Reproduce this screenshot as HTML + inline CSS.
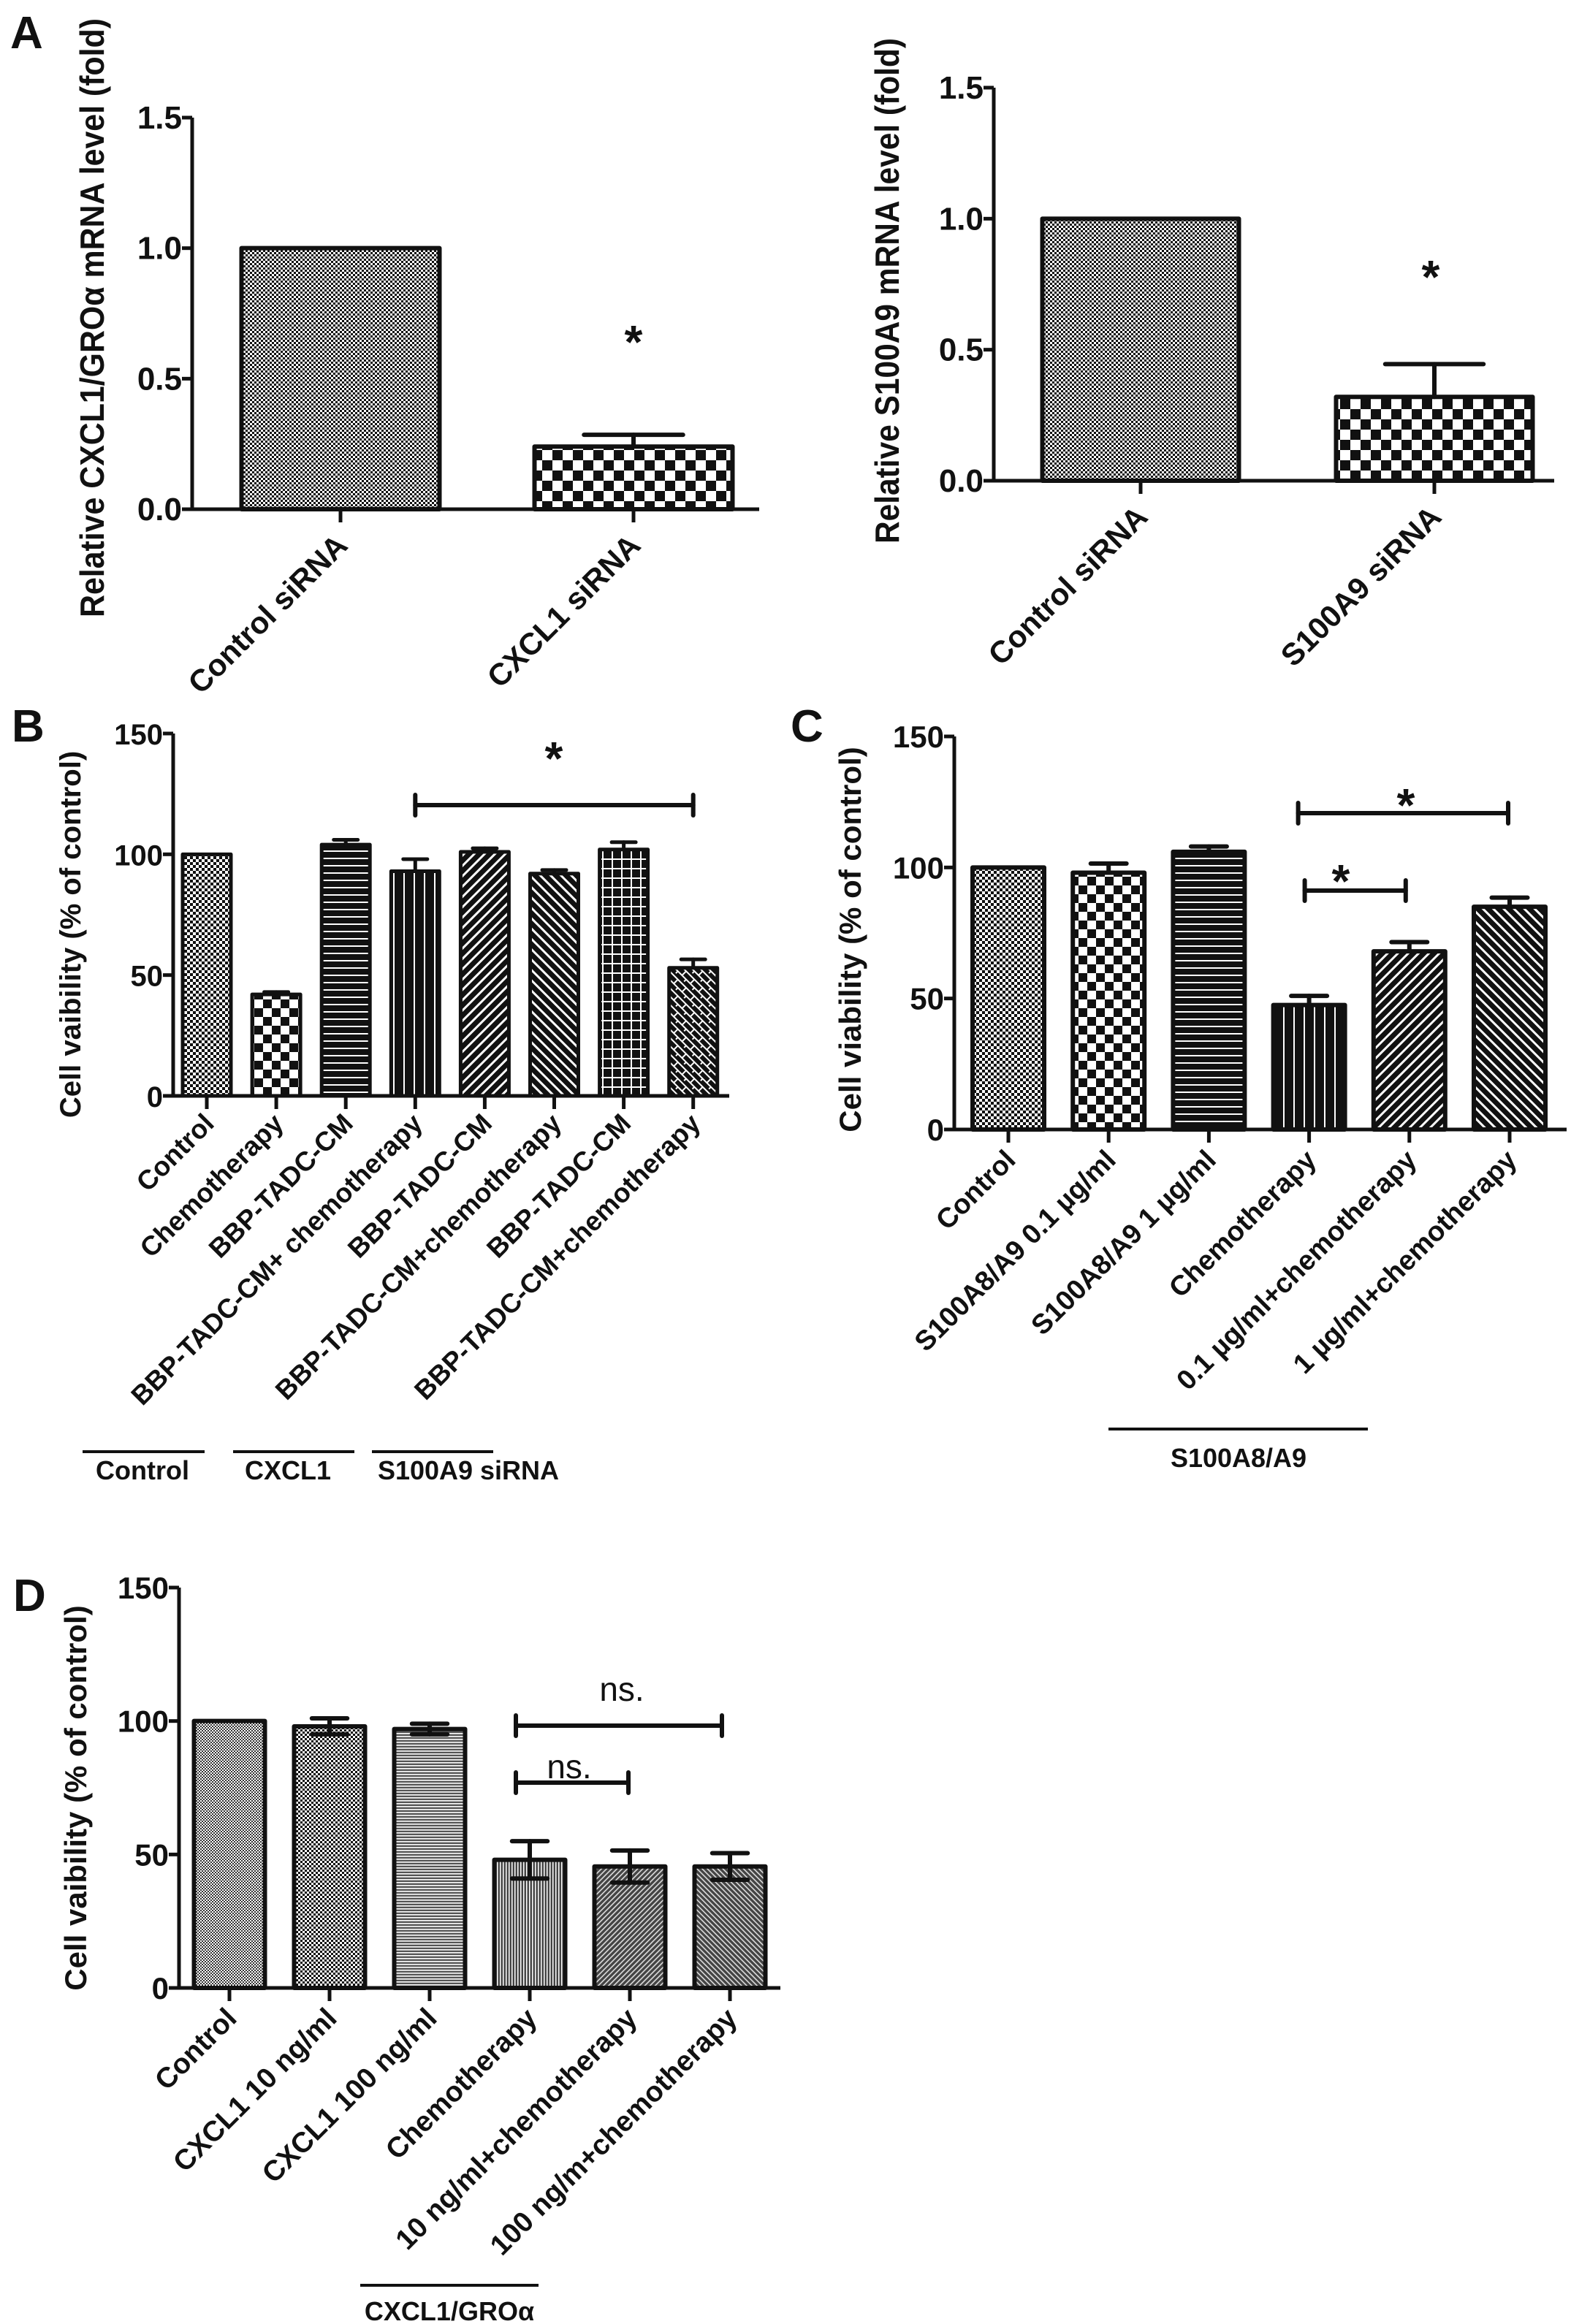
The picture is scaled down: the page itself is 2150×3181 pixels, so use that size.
<!DOCTYPE html>
<html><head><meta charset="utf-8">
<style>
html,body{margin:0;padding:0;background:#fff;}
svg{display:block;font-family:"Liberation Sans",Arial,sans-serif;font-weight:bold;}
</style></head>
<body>
<svg id="fig" width="2150" height="3181" viewBox="0 0 2150 3181" xmlns="http://www.w3.org/2000/svg">
<defs>
<pattern id="pFine" width="6" height="6" patternUnits="userSpaceOnUse"><rect width="6" height="6" fill="#fff"/><rect width="3" height="3" fill="#111"/><rect x="3" y="3" width="3" height="3" fill="#111"/></pattern>
<pattern id="pFine2" width="8" height="8" patternUnits="userSpaceOnUse"><rect width="8" height="8" fill="#fff"/><rect width="4" height="4" fill="#111"/><rect x="4" y="4" width="4" height="4" fill="#111"/></pattern>
<pattern id="pCoarse" width="28" height="28" patternUnits="userSpaceOnUse"><rect width="28" height="28" fill="#fff"/><rect width="14" height="14" fill="#111"/><rect x="14" y="14" width="14" height="14" fill="#111"/></pattern>
<pattern id="pCoarseB" width="24" height="24" patternUnits="userSpaceOnUse"><rect width="24" height="24" fill="#fff"/><rect width="12" height="12" fill="#111"/><rect x="12" y="12" width="12" height="12" fill="#111"/></pattern>
<pattern id="pH" width="10" height="10" patternUnits="userSpaceOnUse"><rect width="10" height="10" fill="#111"/><rect y="4" width="10" height="2" fill="#fff"/></pattern>
<pattern id="pV" width="14" height="10" patternUnits="userSpaceOnUse"><rect width="14" height="10" fill="#111"/><rect x="6" width="2" height="10" fill="#fff"/></pattern>
<pattern id="pD1" width="10" height="10" patternUnits="userSpaceOnUse" patternTransform="rotate(45)"><rect width="10" height="10" fill="#111"/><rect x="4" width="3" height="10" fill="#fff"/></pattern>
<pattern id="pD2" width="10" height="10" patternUnits="userSpaceOnUse" patternTransform="rotate(-45)"><rect width="10" height="10" fill="#111"/><rect x="4" width="3" height="10" fill="#fff"/></pattern>
<pattern id="pGrid" width="13" height="13" patternUnits="userSpaceOnUse"><rect width="13" height="13" fill="#111"/><rect x="5" width="2" height="13" fill="#fff"/><rect y="5" width="13" height="2" fill="#fff"/></pattern>
<pattern id="pBrick" width="16" height="16" patternUnits="userSpaceOnUse" patternTransform="rotate(45)"><rect width="16" height="16" fill="#111"/><rect y="3" width="16" height="2" fill="#fff"/><rect y="11" width="16" height="2" fill="#fff"/><rect x="3" y="3" width="2" height="8" fill="#fff"/><rect x="11" y="11" width="2" height="8" fill="#fff"/></pattern>
<pattern id="pDH" width="4" height="4" patternUnits="userSpaceOnUse"><rect width="4" height="4" fill="#555"/><rect width="4" height="1.6" fill="#fff"/></pattern>
<pattern id="pDV" width="4" height="4" patternUnits="userSpaceOnUse"><rect width="4" height="4" fill="#444"/><rect width="1.5" height="4" fill="#fff"/></pattern>
<pattern id="pDD1" width="5" height="5" patternUnits="userSpaceOnUse" patternTransform="rotate(45)"><rect width="5" height="5" fill="#444"/><rect width="1.6" height="5" fill="#ddd"/></pattern>
<pattern id="pDD2" width="5" height="5" patternUnits="userSpaceOnUse" patternTransform="rotate(-45)"><rect width="5" height="5" fill="#444"/><rect width="1.6" height="5" fill="#ddd"/></pattern>
<pattern id="pDF" width="4" height="4" patternUnits="userSpaceOnUse"><rect width="4" height="4" fill="#fff"/><rect width="2" height="2" fill="#333"/><rect x="2" y="2" width="2" height="2" fill="#333"/></pattern>
</defs>
</svg>
<script>
// ---- Panel A-left data ----
const aLCats = ["Control siRNA","CXCL1 siRNA"];
const aLVals = [1.0, 0.24];
const aLErrs = [0, 0.045];
const aLTicks = [0, 0.5, 1.0, 1.5];
const aLTickLabels = ["0.0","0.5","1.0","1.5"];
// ---- Panel A-right data ----
const aRCats = ["Control siRNA","S100A9 siRNA"];
const aRVals = [1.0, 0.32];
const aRErrs = [0, 0.125];
const aRTicks = [0, 0.5, 1.0, 1.5];
const aRTickLabels = ["0.0","0.5","1.0","1.5"];
// ---- Panel B data ----
const bCats = ["Control","Chemotherapy","BBP-TADC-CM","BBP-TADC-CM+ chemotherapy","BBP-TADC-CM","BBP-TADC-CM+chemotherapy","BBP-TADC-CM","BBP-TADC-CM+chemotherapy"];
const bVals = [100, 42, 104, 93, 101, 92, 102, 53];
const bErrs = [0, 1, 2, 5, 1.5, 1.5, 3, 3.5];
const bTicks = [0, 50, 100, 150];
const bTickLabels = ["0","50","100","150"];
// ---- Panel C data ----
const cCats = ["Control","S100A8/A9 0.1 \u00b5g/ml","S100A8/A9 1 \u00b5g/ml","Chemotherapy","0.1 \u00b5g/ml+chemotherapy","1 \u00b5g/ml+chemotherapy"];
const cVals = [100, 98, 106, 47.5, 68, 85];
const cErrs = [0, 3.5, 2, 3.5, 3.5, 3.5];
const cTicks = [0, 50, 100, 150];
const cTickLabels = ["0","50","100","150"];
// ---- Panel D data ----
const dCats = ["Control","CXCL1 10 ng/ml","CXCL1 100 ng/ml","Chemotherapy","10 ng/ml+chemotherapy","100 ng/m+chemotherapy"];
const dVals = [100, 98, 97, 48, 45.5, 45.5];
const dErrs = [0, 3, 2, 7, 6, 5];
const dTicks = [0, 50, 100, 150];
const dTickLabels = ["0","50","100","150"];

const NS = "http://www.w3.org/2000/svg";
const fig = document.getElementById('fig');
function mk(tag, attrs, parent){
  const e = document.createElementNS(NS, tag);
  for (const k in attrs) e.setAttribute(k, attrs[k]);
  (parent||fig).appendChild(e);
  return e;
}
function txt(s, attrs, parent){ const t = mk('text', attrs, parent); t.textContent = s; return t; }

function panel(p){
  const g = mk('g', {});
  
  
  const yScale = v => p.y0 - (v - p.ticks[0]) / (p.ticks[p.ticks.length-1] - p.ticks[0]) * (p.y0 - p.yTop);
  const xScale = i => p.x1st + i * p.step;
  p.vals.forEach((v, i) => {
    const cx = xScale(i), top = yScale(v);
    const r = mk('rect', {x: cx - p.bw/2, y: top, width: p.bw, height: p.y0 - top, fill: 'url(#' + p.fills[i] + ')', stroke: '#111', 'stroke-width': p.sw, 'stroke-linejoin': 'round'}, g);
    
    
    const e = p.errs[i];
    if (e > 0) {
      const eg = mk('g', {stroke: '#111', 'stroke-width': p.sw, 'stroke-linecap': 'round'}, g);
      
      
      const hi = yScale(v + e), lo = p.both ? yScale(v - e) : top;
      const cw = p.bw * 0.25;
      mk('line', {x1: cx, x2: cx, y1: hi, y2: lo}, eg);
      mk('line', {x1: cx - cw, x2: cx + cw, y1: hi, y2: hi}, eg);
      if (p.both) mk('line', {x1: cx - cw, x2: cx + cw, y1: lo, y2: lo}, eg);
    }
    mk('line', {x1: cx, x2: cx, y1: p.y0, y2: p.y0 + 18, stroke: '#111', 'stroke-width': 5}, g);
    const lx = cx + p.lox, ly = p.y0 + p.loy;
    const t = txt(p.cats[i], {x: lx, y: ly, 'text-anchor': 'end', 'font-size': p.lfs, transform: 'rotate(-45 ' + lx + ' ' + ly + ')', fill: '#111'}, g);
    
    
  });
  const ax = mk('path', {d: 'M' + p.ax + ' ' + p.yTop + ' V' + p.y0 + ' H' + p.xEnd, fill: 'none', stroke: '#111', 'stroke-width': 5}, g);
  
  
  p.ticks.forEach((tv, k) => {
    const y = yScale(tv);
    mk('line', {x1: p.ax - 14, x2: p.ax, y1: y, y2: y, stroke: '#111', 'stroke-width': 5}, g);
    const t = txt(p.tickLabels[k], {x: p.ax - 14, y: y + 15, 'text-anchor': 'end', 'font-size': p.tkfs || 42, fill: '#111'}, g);
    
    
  });
  const ta = {x: 0, y: 0, 'text-anchor': 'middle', 'font-size': p.tfs, transform: 'translate(' + p.tx + ' ' + p.ty + ') rotate(-90)', fill: '#111'};
  if (p.tlen) { ta.textLength = p.tlen; ta.lengthAdjust = 'spacingAndGlyphs'; }
  const yt = txt(p.title, ta, g);
  
  
  return {g, yScale, xScale};
}

function sig(parent, xs, xe, y, label, lx, ly, fs, name){
  const g = mk('g', {stroke: '#111', 'stroke-width': 6, 'stroke-linecap': 'round'}, parent);
  
  
  mk('line', {x1: xs, x2: xe, y1: y, y2: y}, g);
  mk('line', {x1: xs, x2: xs, y1: y - 14, y2: y + 14}, g);
  mk('line', {x1: xe, x2: xe, y1: y - 14, y2: y + 14}, g);
  const t = txt(label, {x: lx, y: ly, 'text-anchor': 'middle', 'font-size': fs, fill: '#111', stroke: 'none', 'font-weight': label === '*' ? 'bold' : 'normal'}, parent);
  
  
}
function letter(s, x, y){
  const t = txt(s, {x, y, 'font-size': 62, fill: '#111'});
  
  
}
function group(parent, x1, x2, y, label, tx, ty, name){
  const l = mk('line', {x1, x2, y1: y, y2: y, stroke: '#111', 'stroke-width': 4}, parent);
  
  
  const t = txt(label, {x: tx, y: ty, 'text-anchor': 'middle', 'font-size': 36, fill: '#111'}, parent);
  
  
}
function star(parent, x, y){
  const t = txt('*', {x, y, 'text-anchor': 'middle', 'font-size': 64, fill: '#111'}, parent);
  
  
}

// Panel A left
letter('A', 14, 66);
const pAL = panel({name: 'panel-a-cxcl1', cats: aLCats, vals: aLVals, errs: aLErrs, ticks: aLTicks, tickLabels: aLTickLabels,
  y0: 697, yTop: 161, ax: 263, xEnd: 1039, x1st: 466, step: 401, bw: 271, sw: 6, fills: ['pFine','pCoarse'], tkfs: 44,
  title: 'Relative CXCL1/GRO\u03b1  mRNA level (fold)', tx: 142, ty: 435, tfs: 46, tlen: 820, lfs: 42, lox: 12, loy: 52});
star(pAL.g, 867, 490);

// Panel A right
const pAR = panel({name: 'panel-a-s100a9', cats: aRCats, vals: aRVals, errs: aRErrs, ticks: aRTicks, tickLabels: aRTickLabels,
  y0: 658, yTop: 120, ax: 1360, xEnd: 2127, x1st: 1561, step: 402, bw: 269, sw: 6, fills: ['pFine','pCoarse'], tkfs: 44,
  title: 'Relative S100A9 mRNA level (fold)', tx: 1230, ty: 398, tfs: 46, tlen: 692, lfs: 42, lox: 12, loy: 52});
star(pAR.g, 1958, 401);

// Panel B
letter('B', 16, 1015);
const pB = panel({name: 'panel-b', cats: bCats, vals: bVals, errs: bErrs, ticks: bTicks, tickLabels: bTickLabels,
  y0: 1500, yTop: 1004, ax: 237, xEnd: 998, x1st: 283, step: 95.1, bw: 66, sw: 5, tkfs: 40,
  fills: ['pFine2','pCoarseB','pH','pV','pD1','pD2','pGrid','pBrick'],
  title: 'Cell vaibility (% of control)', tx: 110, ty: 1279, tfs: 40, lfs: 37, lox: 12, loy: 40});
sig(pB.g, pB.xScale(3), pB.xScale(7), 1102, '*', 758, 1060, 64, 'significance-bracket');
group(pB.g, 113, 280, 1987, 'Control', 195, 2025, 'group-control');
group(pB.g, 319, 485, 1987, 'CXCL1', 394, 2025, 'group-cxcl1');
group(pB.g, 509, 675, 1987, 'S100A9 siRNA', 641, 2025, 'group-s100a9-sirna');

// Panel C
letter('C', 1082, 1015);
const pC = panel({name: 'panel-c', cats: cCats, vals: cVals, errs: cErrs, ticks: cTicks, tickLabels: cTickLabels,
  y0: 1546, yTop: 1008, ax: 1306, xEnd: 2144, x1st: 1380, step: 137.2, bw: 98, sw: 6, tkfs: 42,
  fills: ['pFine2','pCoarseB','pH','pV','pD1','pD2'],
  title: 'Cell viability (% of control)', tx: 1178, ty: 1286, tfs: 42, lfs: 38, lox: 12, loy: 44});
sig(pC.g, pC.xScale(3) - 15, pC.xScale(5) - 2, 1113, '*', 1924, 1124, 64, 'significance-bracket-wide');
sig(pC.g, pC.xScale(3) - 6, pC.xScale(4) - 5, 1219, '*', 1835, 1228, 64, 'significance-bracket-narrow');
group(pC.g, 1517, 1872, 1956, 'S100A8/A9', 1695, 2008, 'group-s100a8-a9');

// Panel D
letter('D', 18, 2205);
const pD = panel({name: 'panel-d', cats: dCats, vals: dVals, errs: dErrs, ticks: dTicks, tickLabels: dTickLabels, both: true,
  y0: 2721, yTop: 2173, ax: 245, xEnd: 1068, x1st: 314, step: 137, bw: 97, sw: 6, tkfs: 42,
  fills: ['pDF','pFine','pDH','pDV','pDD1','pDD2'],
  title: 'Cell vaibility (% of control)', tx: 118, ty: 2461, tfs: 42, lfs: 39, lox: 12, loy: 44});
sig(pD.g, pD.xScale(3) - 19, pD.xScale(5) - 11, 2362, 'ns.', 851, 2328, 46, 'ns-bracket-wide');
sig(pD.g, pD.xScale(3) - 19, pD.xScale(4) - 2, 2440, 'ns.', 779, 2434, 46, 'ns-bracket-narrow');
group(pD.g, 493, 737, 3128, 'CXCL1/GRO\u03b1', 615, 3176, 'group-cxcl1-gro');
</script>
</body></html>
